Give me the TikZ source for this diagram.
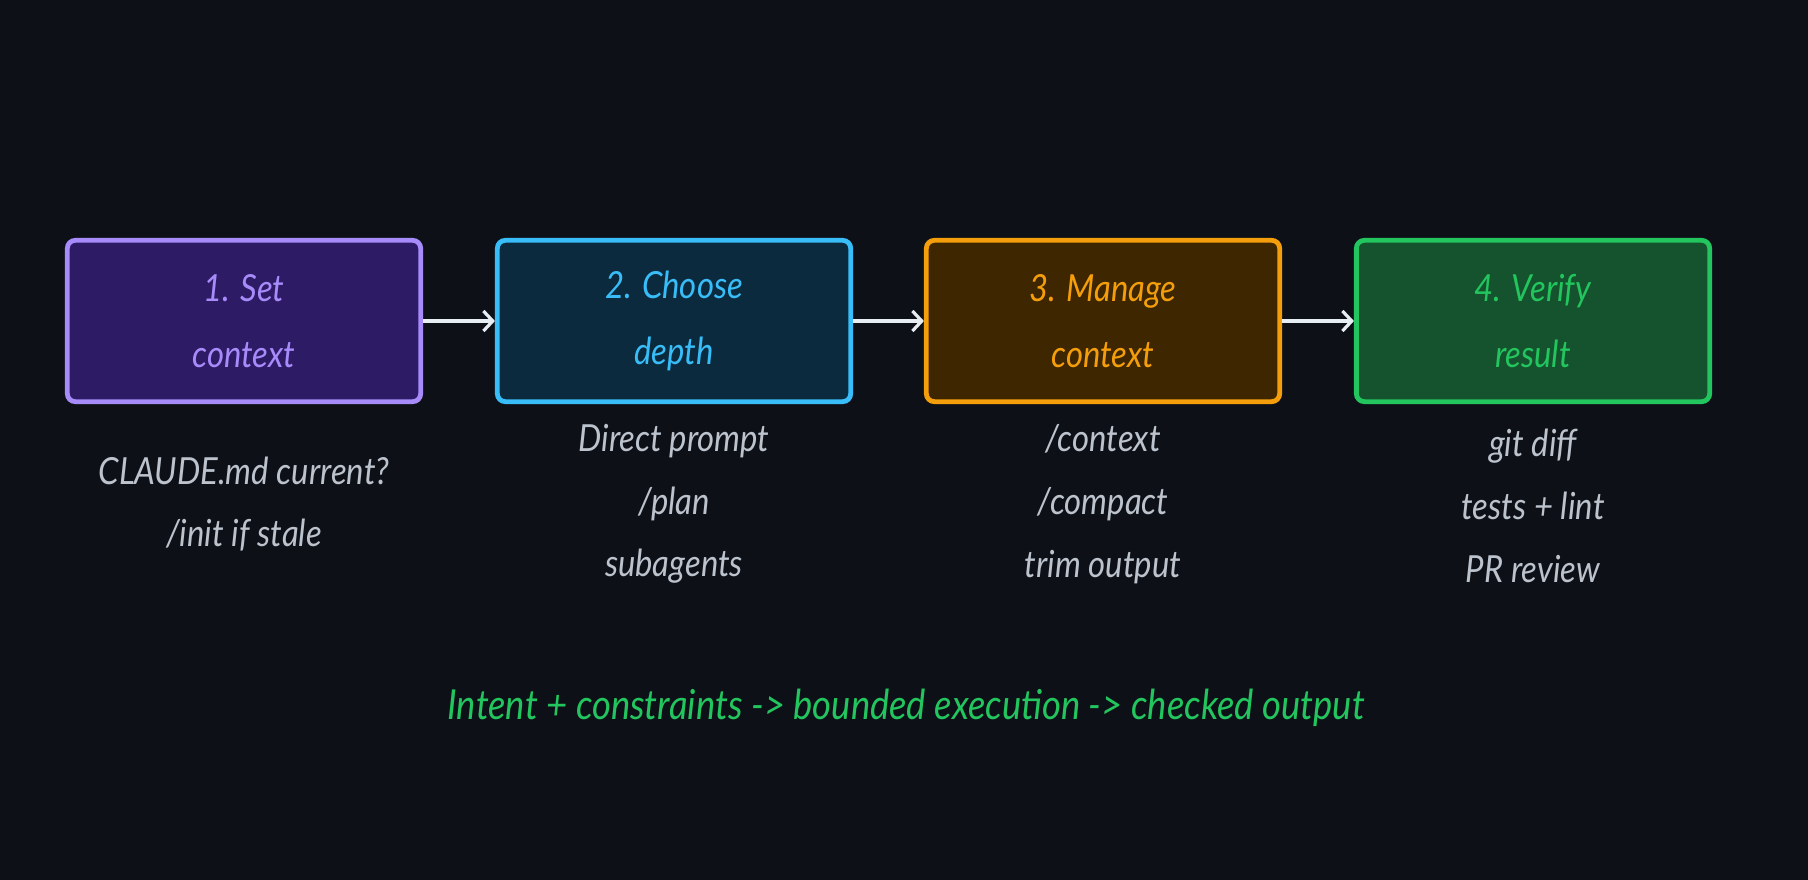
\documentclass[tikz,border=0pt]{standalone}
\usepackage{fontspec}
\newfontfamily\hand{Lato}[FakeStretch=0.88]
\usetikzlibrary{arrows.meta}
\definecolor{bg}{HTML}{0D1117}
\definecolor{pA}{HTML}{A78BFA}\definecolor{pAf}{HTML}{2E1B66}
\definecolor{pB}{HTML}{38BDF8}\definecolor{pBf}{HTML}{0C2A3E}
\definecolor{pC}{HTML}{F59E0B}\definecolor{pCf}{HTML}{3D2600}
\definecolor{pD}{HTML}{22C55E}\definecolor{pDf}{HTML}{14532D}
\definecolor{note}{HTML}{BCC3CD}
\definecolor{arr}{HTML}{E6EDF3}
\tikzset{
  stagebox/.style={draw=#1, line width=3.6pt, rounded corners=6pt,
    minimum width=265pt, minimum height=121pt,
    align=center, font=\hand\itshape\fontsize{28}{50}\selectfont, text=#1,
    inner sep=0pt},
  notes/.style={align=center, text=note, font=\hand\itshape\fontsize{28}{47}\selectfont},
  flow/.style={draw=arr, line width=2.4pt, -{Straight Barb[length=7pt,width=15pt,line width=2.4pt]}}
}
\begin{document}
\begin{tikzpicture}[x=0.75pt,y=-0.75pt]
\fill[bg] (0,0) rectangle (1808,880);
\useasboundingbox (0,0) rectangle (1808,880);
\node[stagebox=pA, fill=pAf] (s1) at (244,321) {1. Set\\context};
\node[stagebox=pB, fill=pBf] (s2) at (674,321) {2. Choose\\depth};
\node[stagebox=pC, fill=pCf] (s3) at (1103,321) {3. Manage\\context};
\node[stagebox=pD, fill=pDf] (s4) at (1533,321) {4. Verify\\result};
\draw[flow] (s1.east) -- (s2.west);
\draw[flow] (s2.east) -- (s3.west);
\draw[flow] (s3.east) -- (s4.west);
\node[notes] (n1) at (244,504) {CLAUDE.md current?\\/init if stale};
\node[notes] (n2) at (674,504) {Direct prompt\\/plan\\subagents};
\node[notes] (n3) at (1103,504) {/context\\/compact\\trim output};
\node[notes] (n4) at (1533,506) {git diff\\tests + lint\\PR review};
\node[text=pD, font=\hand\itshape\fontsize{31}{34}\selectfont] (tag) at (906,708) {Intent + constraints -> bounded execution -> checked output};
\end{tikzpicture}
\end{document}
